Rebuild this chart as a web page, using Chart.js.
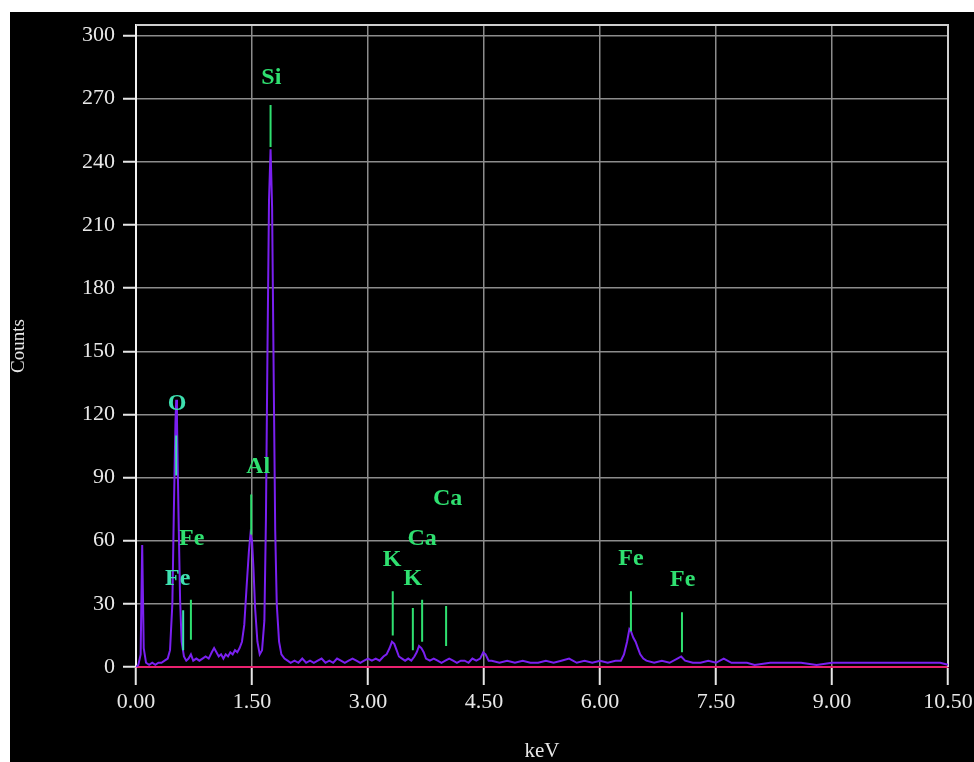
<!DOCTYPE html>
<html>
<head>
<meta charset="utf-8">
<title>EDS spectrum</title>
<script src="https://cdn.jsdelivr.net/npm/chart.js@4"></script>
<style>
    html, body { margin: 0; padding: 0; background: #fff; }
    #wrap { position: absolute; left: 10px; top: 12px; width: 964px; height: 750px; background: #000; }
</style>
</head>
<body>
<div id="wrap"><canvas id="spectrumChart"></canvas></div>
<script>
// spectrum (keV / counts)
const energy = [
    0.00, 0.03, 0.06, 0.08, 0.10, 0.13, 0.17, 0.21, 0.25, 0.29, 0.33, 0.37, 0.41, 0.44, 0.47, 0.49,
    0.51, 0.52, 0.53, 0.55, 0.57, 0.59, 0.62, 0.65, 0.68, 0.71, 0.74, 0.78, 0.82, 0.86, 0.90, 0.94,
    0.98, 1.01, 1.04, 1.07, 1.10, 1.13, 1.16, 1.19, 1.22, 1.25, 1.28, 1.31, 1.34, 1.37, 1.40, 1.43,
    1.46, 1.48, 1.50, 1.52, 1.54, 1.57, 1.60, 1.63, 1.66, 1.68, 1.70, 1.72, 1.74, 1.76, 1.78, 1.80,
    1.82, 1.85, 1.88, 1.92, 1.96, 2.00, 2.05, 2.10, 2.15, 2.20, 2.25, 2.30, 2.35, 2.40, 2.45, 2.50,
    2.55, 2.60, 2.65, 2.70, 2.75, 2.80, 2.85, 2.90, 2.95, 3.00, 3.05, 3.10, 3.15, 3.20, 3.24, 3.28,
    3.31, 3.34, 3.37, 3.40, 3.44, 3.48, 3.52, 3.56, 3.60, 3.63, 3.66, 3.69, 3.72, 3.75, 3.80, 3.85,
    3.90, 3.95, 4.00, 4.05, 4.10, 4.15, 4.20, 4.25, 4.30, 4.35, 4.40, 4.45, 4.49, 4.52, 4.56, 4.60,
    4.70, 4.80, 4.90, 5.00, 5.10, 5.20, 5.30, 5.40, 5.50, 5.60, 5.70, 5.80, 5.90, 6.00, 6.10, 6.20,
    6.27, 6.31, 6.35, 6.38, 6.40, 6.43, 6.46, 6.49, 6.52, 6.56, 6.60, 6.70, 6.80, 6.90, 7.00, 7.05,
    7.10, 7.20, 7.30, 7.40, 7.50, 7.60, 7.70, 7.80, 7.90, 8.00, 8.20, 8.40, 8.60, 8.80, 9.00, 9.20,
    9.40, 9.60, 9.80, 10.00, 10.20, 10.40, 10.50
];
const counts = [
    0, 1, 6, 58, 9, 2, 1, 2, 1, 2, 2, 3, 4, 8, 30, 75,
    116, 127, 117, 72, 32, 12, 5, 3, 4, 6, 3, 4, 3, 4, 5, 4,
    7, 9, 7, 5, 6, 4, 6, 5, 7, 6, 8, 7, 9, 12, 20, 38,
    55, 63, 60, 46, 28, 12, 6, 8, 22, 70, 150, 222, 246, 218, 140, 65,
    30, 12, 6, 4, 3, 2, 3, 2, 4, 2, 3, 2, 3, 4, 2, 3,
    2, 4, 3, 2, 3, 4, 3, 2, 3, 4, 3, 4, 3, 5, 6, 9,
    12, 11, 8, 5, 4, 3, 4, 3, 5, 7, 10, 9, 7, 4, 3, 4,
    3, 2, 3, 4, 3, 2, 3, 3, 2, 4, 3, 4, 7, 6, 3, 3,
    2, 3, 2, 3, 2, 2, 3, 2, 3, 4, 2, 3, 2, 3, 2, 3,
    3, 6, 12, 18, 17, 14, 12, 9, 6, 4, 3, 2, 3, 2, 4, 5,
    3, 2, 2, 3, 2, 4, 2, 2, 2, 1, 2, 2, 2, 1, 2, 2,
    2, 2, 2, 2, 2, 2, 1
];

// element markers: line position, line top/bottom, label position
const markerNames = ['Si', 'O', 'Al', 'Fe', 'Fe', 'K', 'K', 'Ca', 'Ca', 'Fe', 'Fe'];
const markerKeV = [1.74, 0.52, 1.49, 0.71, 0.61, 3.32, 3.58, 3.70, 4.01, 6.40, 7.06];
const markerTop = [267, 110, 82, 32, 27, 36, 28, 32, 29, 36, 26];
const markerBottom = [247, 91, 63, 13, 8, 15, 8, 12, 10, 17, 7];
const labelKeV = [1.75, 0.53, 1.58, 0.72, 0.54, 3.31, 3.58, 3.70, 4.03, 6.40, 7.07];
const labelCounts = [280, 125, 95, 61, 42, 51, 42, 61, 80, 51.5, 41.5];

const xTickValues = [0, 1.5, 3, 4.5, 6, 7.5, 9, 10.5];
const yTickValues = [0, 30, 60, 90, 120, 150, 180, 210, 240, 270, 300];
const xRange = [0, 10.5];
const yRange = [0, 305];

const green = '#2fe070';
const cyanGreen = '#3ee0b0';
const markerColor = (i) => (i === 1 || i === 4) ? cyanGreen : green;

const spectrum = energy.map((e, i) => ({ x: e, y: counts[i] }));

// one dataset for all marker lines, broken by null points
const markerLines = [];
markerKeV.forEach((k, i) => {
    markerLines.push({ x: k, y: markerTop[i] });
    markerLines.push({ x: k, y: markerBottom[i] });
    markerLines.push({ x: k, y: null });
});

const markerLabelPlugin = {
    id: 'markerLabels',
    afterDatasetsDraw(chart) {
        const ctx = chart.ctx;
        const xs = chart.scales.x, ys = chart.scales.y;
        ctx.save();
        ctx.font = 'bold 24px "Liberation Serif", serif';
        ctx.textAlign = 'center';
        ctx.textBaseline = 'middle';
        markerNames.forEach((name, i) => {
            ctx.fillStyle = markerColor(i);
            ctx.fillText(name, xs.getPixelForValue(labelKeV[i]), ys.getPixelForValue(labelCounts[i]));
        });
        ctx.restore();
    }
};

const framePlugin = {
    id: 'frame',
    beforeDatasetsDraw(chart) {
        const a = chart.chartArea, ctx = chart.ctx;
        ctx.save();
        ctx.strokeStyle = '#cfcfcf';
        ctx.lineWidth = 2;
        ctx.beginPath();
        ctx.moveTo(a.left, a.top);
        ctx.lineTo(a.right, a.top);
        ctx.lineTo(a.right, a.bottom);
        ctx.stroke();
        ctx.restore();
    }
};

const tickFont = { family: '"Liberation Serif", serif', size: 22 };

new Chart(document.getElementById('spectrumChart'), {
    type: 'line',
    data: {
        datasets: [
            {
                label: 'markers',
                data: markerLines,
                borderColor: green,
                segment: { borderColor: (c) => markerColor(Math.floor(c.p0DataIndex / 3)) },
                borderWidth: 2,
                pointRadius: 0,
                spanGaps: false,
                order: 1
            },
            {
                label: 'Counts',
                data: spectrum,
                borderColor: '#7a20f0',
                borderWidth: 2,
                pointRadius: 0,
                tension: 0,
                order: 2
            }
        ]
    },
    options: {
        responsive: true,
        maintainAspectRatio: false,
        animation: false,
        layout: { padding: { top: 13, right: 26, left: 0, bottom: 0 } },
        plugins: { legend: { display: false }, tooltip: { enabled: false } },
        scales: {
            x: {
                type: 'linear',
                min: xRange[0],
                max: xRange[1],
                afterFit: (s) => { s.height = 95; s.paddingLeft = 0; s.paddingRight = 0; },
                afterBuildTicks: (s) => { s.ticks = xTickValues.map(v => ({ value: v })); },
                ticks: {
                    color: '#e8e8e8',
                    font: tickFont,
                    padding: 4,
                    maxRotation: 0,
                    autoSkip: false,
                    callback: (v) => v.toFixed(2)
                },
                grid: { color: '#8c8c8c', lineWidth: 1.5, tickLength: 18, tickColor: '#e6e6e6', tickWidth: 2 },
                border: { color: '#e8206e', width: 2 },
                title: {
                    display: true,
                    text: 'keV',
                    color: '#e8e8e8',
                    font: { family: '"Liberation Serif", serif', size: 21, lineHeight: 1 },
                    padding: { top: 0, bottom: 0 }
                }
            },
            y: {
                min: yRange[0],
                max: yRange[1],
                afterFit: (s) => { s.width = 126; s.paddingTop = 0; s.paddingBottom = 0; },
                afterBuildTicks: (s) => { s.ticks = yTickValues.map(v => ({ value: v })); },
                ticks: {
                    color: '#e8e8e8',
                    font: tickFont,
                    padding: 8,
                    autoSkip: false
                },
                grid: { color: '#8c8c8c', lineWidth: 1.5, tickLength: 13, tickColor: '#e6e6e6', tickWidth: 2 },
                border: { color: '#f2f2f2', width: 2 },
                title: {
                    display: true,
                    text: 'Counts',
                    color: '#e8e8e8',
                    font: { family: '"Liberation Serif", serif', size: 19, lineHeight: 1 },
                    padding: { top: 0, bottom: 0 }
                }
            }
        }
    },
    plugins: [markerLabelPlugin, framePlugin]
});
</script>
</body>
</html>
